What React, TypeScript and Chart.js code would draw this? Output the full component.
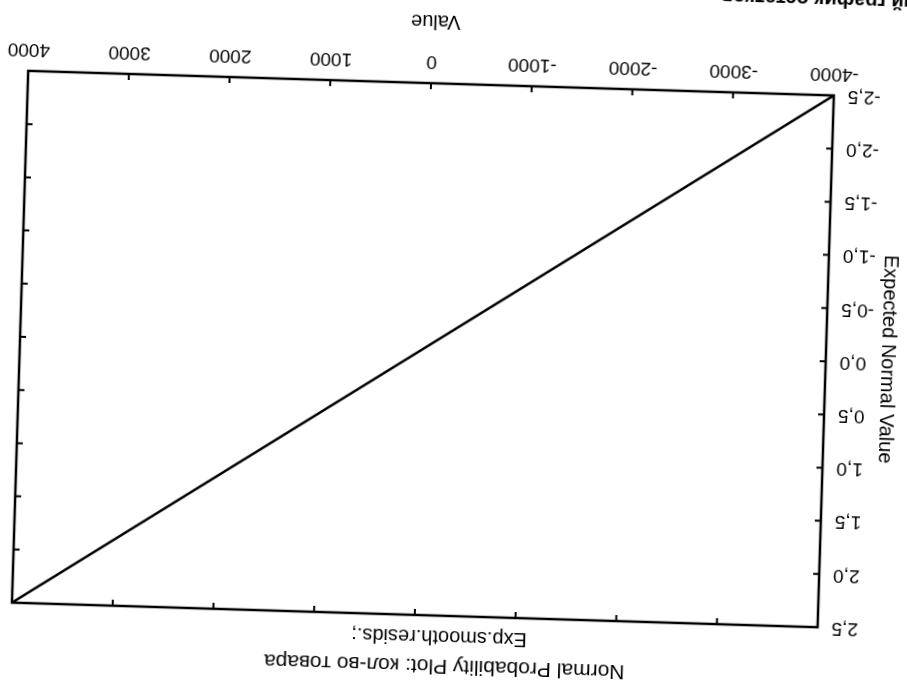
import React, { useEffect, useRef } from "react";
import { Chart, registerables } from "chart.js";

Chart.register(...registerables);

// ---- data ----
const xTickValues = [-4000, -3000, -2000, -1000, 0, 1000, 2000, 3000, 4000];
const yTickValues = [-2.5, -2.0, -1.5, -1.0, -0.5, 0.0, 0.5, 1.0, 1.5, 2.0, 2.5];
const residValues = [-4000, 4000];
const expectedNormal = [-2.5, 2.5];

const titleText = "Normal Probability Plot: кол-во товара";
const subtitleText = "Exp.smooth.resids.;";
const xAxisTitle = "Value";
const yAxisTitle = "Expected Normal Value";
const captionText = "ый график остатков";

const FONT = '"Liberation Sans", Arial, Helvetica, sans-serif';

const framePlugin = {
  id: "frameAndTexts",
  afterDraw(chart: any) {
    const { ctx, chartArea: a, scales } = chart;
    ctx.save();
    ctx.strokeStyle = "#000";
    ctx.lineWidth = 2.5;
    ctx.strokeRect(a.left, a.top, a.right - a.left, a.bottom - a.top);
    const t = 6;
    ctx.lineWidth = 2;
    ctx.beginPath();
    for (const v of xTickValues) {
      const x = scales.x.getPixelForValue(v);
      ctx.moveTo(x, a.bottom);
      ctx.lineTo(x, a.bottom - t);
      ctx.moveTo(x, a.top);
      ctx.lineTo(x, a.top + t);
    }
    for (const v of yTickValues) {
      const y = scales.y.getPixelForValue(v);
      ctx.moveTo(a.left, y);
      ctx.lineTo(a.left + t, y);
      ctx.moveTo(a.right, y);
      ctx.lineTo(a.right - t, y);
    }
    ctx.stroke();

    ctx.fillStyle = "#000";
    ctx.textAlign = "center";
    ctx.textBaseline = "alphabetic";
    // title
    ctx.font = `21px ${FONT}`;
    ctx.fillText(titleText, 500, 85.5);
    // subtitle
    ctx.font = `20px ${FONT}`;
    ctx.fillText(subtitleText, 506, 115);
    // x axis title
    ctx.font = `20px ${FONT}`;
    ctx.fillText(xAxisTitle, 528, 730);
    // y axis title
    ctx.save();
    ctx.translate(65, 400);
    ctx.rotate(-Math.PI / 2);
    ctx.font = `20px ${FONT}`;
    ctx.fillText(yAxisTitle, 0, 7);
    ctx.restore();
    // cut caption
    ctx.font = `bold 20px ${FONT}`;
    ctx.textAlign = "right";
    ctx.fillText(captionText, 244, 764);
    ctx.restore();
  },
};

export default function App() {
  const ref = useRef<HTMLCanvasElement | null>(null);

  useEffect(() => {
    if (!ref.current) return;
    const tickFont = { family: FONT, size: 19 };
    const chart = new Chart(ref.current, {
      type: "scatter",
      data: {
        datasets: [
          {
            data: residValues.map((x, i) => ({ x, y: expectedNormal[i] })),
            showLine: true,
            borderColor: "#000",
            backgroundColor: "#000",
            borderWidth: 2.5,
            pointRadius: 0,
            fill: false,
          },
        ],
      },
      options: {
        responsive: false,
        animation: false,
        events: [],
        layout: { padding: { left: 0, right: 66, top: 130, bottom: 78 } },
        plugins: {
          legend: { display: false },
          tooltip: { enabled: false },
          title: { display: false },
        },
        scales: {
          x: {
            type: "linear",
            min: -4000,
            max: 4000,
            afterBuildTicks: (s: any) => {
              s.ticks = xTickValues.map((v) => ({ value: v }));
            },
            afterFit: (s: any) => {
              s.height = 60;
            },
            grid: { display: false, drawTicks: false },
            border: { display: false },
            ticks: {
              font: tickFont,
              color: "#000",
              padding: 10,
              maxRotation: 0,
              autoSkip: false,
              callback: (v: any) => String(v),
            },
          },
          y: {
            type: "linear",
            min: -2.5,
            max: 2.5,
            afterBuildTicks: (s: any) => {
              s.ticks = yTickValues.map((v) => ({ value: v }));
            },
            afterFit: (s: any) => {
              s.width = 128;
            },
            grid: { display: false, drawTicks: false },
            border: { display: false },
            ticks: {
              font: tickFont,
              color: "#000",
              padding: 14,
              autoSkip: false,
              callback: (v: any) => Number(v).toFixed(1).replace(".", ","),
            },
          },
        },
      },
      plugins: [framePlugin],
    });
    return () => chart.destroy();
  }, []);

  return (
    <div
      style={{
        position: "fixed",
        left: 0,
        top: 0,
        width: 907,
        height: 692,
        overflow: "hidden",
        background: "#fff",
      }}
    >
      <div
        style={{
          position: "absolute",
          left: -46.5,
          top: -54,
          width: 1000,
          height: 800,
          transform: "rotate(181.75deg)",
        }}
      >
        <canvas
          ref={ref}
          width={1000}
          height={800}
          style={{ display: "block", width: 1000, height: 800 }}
        />
      </div>
    </div>
  );
}
